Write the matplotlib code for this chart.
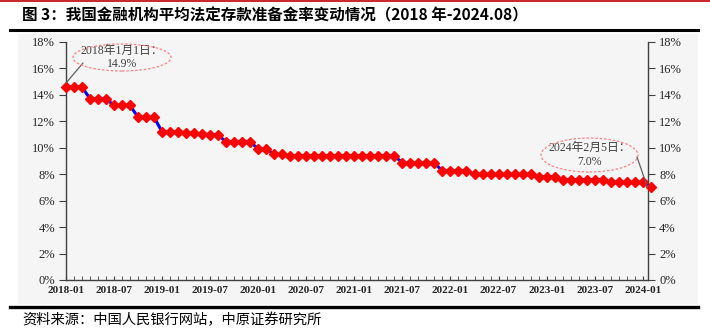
import matplotlib.pyplot as plt
from matplotlib.patches import Ellipse, Rectangle
from matplotlib.lines import Line2D
from matplotlib.ticker import FixedLocator, FuncFormatter

# monthly average required reserve ratio, 2018-01 .. 2024-02 (%)
months = [f"{y}-{m:02d}" for y in range(2018, 2025) for m in range(1, 13)][:74]
rrr = ([14.6] * 3 + [13.7] * 3 + [13.2] * 3 + [12.3] * 3
       + [11.2, 11.2, 11.2, 11.15, 11.1, 11.05, 11.0, 10.95]
       + [10.45] * 4 + [9.9] * 2 + [9.5] * 2 + [9.4] * 14
       + [8.85] * 5 + [8.25] * 4 + [8.0] * 8 + [7.8] * 3
       + [7.6] * 6 + [7.4] * 5 + [7.0])
tick_labels = months[::6]
yticks = list(range(0, 20, 2))

title = "图 3：我国金融机构平均法定存款准备金率变动情况（2018 年-2024.08）"
source = "资料来源：中国人民银行网站，中原证券研究所"
note1 = "2018年1月1日：\n14.9%"
note2 = "2024年2月5日：\n7.0%"

W, H = 710, 329
fig = plt.figure(figsize=(W / 100, H / 100), dpi=100)
fig.patch.set_facecolor("white")


def fx(px):
    return px / W


def fy(py):
    return 1 - py / H


# grey panel, rules and top red line
fig.patches.append(Rectangle((fx(18), fy(304)), fx(680), 270 / H,
                             transform=fig.transFigure, fc="#f5f5f5", ec="none", zorder=-5))
fig.lines.append(Line2D([0, 1], [fy(0.5), fy(0.5)], transform=fig.transFigure,
                        color="#c00000", lw=1.2))
fig.lines.append(Line2D([fx(10), fx(698)], [fy(30), fy(30)], transform=fig.transFigure,
                        color="black", lw=2.2))
fig.lines.append(Line2D([fx(10), fx(698)], [fy(307), fy(307)], transform=fig.transFigure,
                        color="black", lw=2.4))

cjk = ["Noto Sans CJK SC", "DejaVu Sans"]
fig.text(fx(22), fy(15), title, family=cjk, fontsize=11.2, fontweight="bold",
         va="center", ha="left", color="black")
fig.text(fx(22), fy(320), source, family=cjk, fontsize=10.3, va="center", ha="left",
         color="black")

ax = fig.add_axes([fx(66), fy(280), fx(648 - 66), (280 - 42) / H])
ax.set_zorder(2)
ax.set_facecolor("none")
x = list(range(len(rrr)))
ax.plot(x, rrr, color="#0000ff", lw=2.2, marker="D", ms=5.0, mfc="#ff0000",
        mec="#ff0000", clip_on=False, zorder=3)

ax.set_xlim(0, 72.66)
ax.set_ylim(0, 18)
ax.spines["top"].set_visible(False)
for s in ["left", "right", "bottom"]:
    ax.spines[s].set_color("#404040")
    ax.spines[s].set_linewidth(1.0)

ax.xaxis.set_major_locator(FixedLocator(x[::6]))
ax.xaxis.set_minor_locator(FixedLocator(x))
ax.set_xticklabels(tick_labels, family="Liberation Serif", fontsize=8,
                   fontweight="bold", color="#262626")
ax.tick_params(axis="x", which="both", direction="in", length=3, color="#404040", pad=4)

ax.set_yticks(yticks)
ax.yaxis.set_major_formatter(FuncFormatter(lambda v, p: f"{v:.0f}%"))
ax.tick_params(axis="y", direction="out", length=5, color="#404040",
               left=True, right=True, labelleft=True, labelright=True,
               labelsize=9, labelcolor="#262626", pad=3)
for t in ax.yaxis.get_major_ticks():
    t.label1.set_family("Liberation Serif")
    t.label2.set_family("Liberation Serif")

# callouts
ell_kw = dict(transform=fig.transFigure, fc="none", ec="#ff8080", lw=0.9,
              ls=(0, (2, 1.5)), zorder=5)
fig.patches.append(Ellipse((fx(122), fy(57.5)), fx(98), 27 / H, **ell_kw))
fig.patches.append(Ellipse((fx(589.5), fy(155)), fx(97), 34 / H, **ell_kw))
txt_kw = dict(family=["Liberation Serif", "Noto Sans CJK SC"], fontsize=8.5,
              ha="center", va="center", color="#404040", linespacing=1.15)
fig.text(fx(122), fy(57.5), note1, **txt_kw)
fig.text(fx(589.5), fy(155), note2, **txt_kw)

arrow = dict(arrowstyle="-", color="#606060", lw=0.9, shrinkA=0, shrinkB=0)
ax.annotate("", xy=(0, 14.9), xytext=(83, H - 63), textcoords="figure pixels",
            arrowprops=arrow, annotation_clip=False)
ax.annotate("", xy=(72.6, 7.0), xytext=(637, H - 157), textcoords="figure pixels",
            arrowprops=arrow, annotation_clip=False)

fig.savefig("out.png", dpi=100)
